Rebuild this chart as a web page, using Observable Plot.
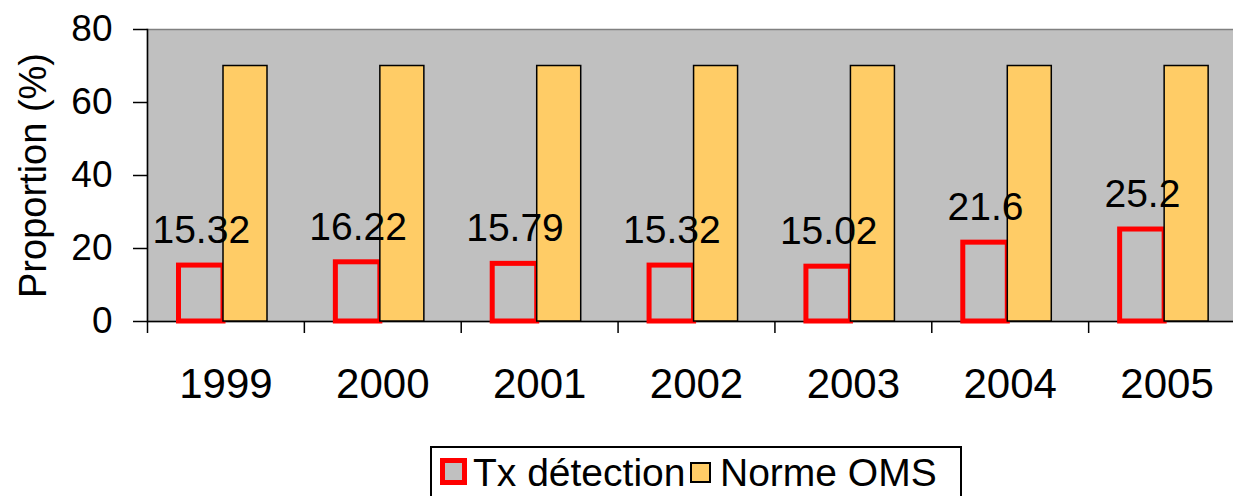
<!DOCTYPE html>
<html><head><meta charset="utf-8">
<script src="https://cdn.jsdelivr.net/npm/d3@7"></script>
<script src="https://cdn.jsdelivr.net/npm/@observablehq/plot@0.6"></script>
<style>
html,body{margin:0;padding:0;background:#fff;overflow:hidden;width:1233px;height:496px}
#wrap{position:relative;width:1233px;height:496px;overflow:hidden;font-family:"Liberation Sans",Arial,sans-serif}
#legend{position:absolute;left:430px;top:446px;width:528px;height:60px;border:2px solid #000;background:#fff}
#legend .sw{position:absolute;box-sizing:border-box}
#legend .lt{position:absolute;top:5px;font-size:39px;line-height:1;color:#000;white-space:nowrap}
</style></head><body><div id="wrap"><div id="chart"></div><div id="legend"></div></div>
<script>
const years = ["1999","2000","2001","2002","2003","2004","2005"];
const detection = [15.32,16.22,15.79,15.32,15.02,21.6,25.2];
const normeOMS = [70,70,70,70,70,70,70];
const yTicks = [0,20,40,60,80];
const seriesNames = ["Tx détection","Norme OMS"];
const yTitle = "Proportion (%)";

const W = 1245, H = 440, ML = 147, MT = 29, MB = 119;
const step = (W - ML) / years.length;
const rows = years.map((y, i) => ({year: y, det: detection[i], oms: normeOMS[i]}));

const chart = Plot.plot({
  width: W, height: H,
  marginLeft: ML, marginRight: 0, marginTop: MT, marginBottom: MB,
  style: {fontFamily: "'Liberation Sans', Arial, sans-serif", background: "transparent", color: "#000", maxWidth: "none", overflow: "visible"},
  x: {type: "band", domain: years, padding: 0, round: false},
  y: {domain: [0, 80]},
  marks: [
    Plot.frame({fill: "#C0C0C0", stroke: "#808080", strokeWidth: 1.5}),
    Plot.ruleY([0], {stroke: "#000", strokeWidth: 1.5}),
    Plot.barY(rows, {x: "year", y: "det", fill: "none", stroke: "#FF0000", strokeWidth: 5, insetLeft: 31.5, insetRight: step - 76}),
    Plot.barY(rows, {x: "year", y: "oms", fill: "#FFCC66", stroke: "#000", strokeWidth: 1.5, insetLeft: 76, insetRight: step - 120}),
    Plot.frame({anchor: "left", stroke: "#000", strokeWidth: 1.5}),
    Plot.axisY({ticks: yTicks, tickSize: 14, tickPadding: 21, fontSize: 37, label: null, strokeWidth: 1.5, stroke: "#000", fill: "#000"}),
    Plot.axisX({tickSize: 12, tickFormat: () => "", dx: -step / 2, label: null, strokeWidth: 1.5, stroke: "#000"}),
    Plot.axisX({tickSize: 0, tickPadding: 47, fontSize: 42, label: null, fill: "#000"}),
    Plot.text([yTitle], {frameAnchor: "left", textAnchor: "middle", rotate: -90, dx: -114, fontSize: 38, fill: "#000"}),
    Plot.text(rows, {x: "year", y: "det", text: d => String(d.det), dx: -24.65, dy: -35, fontSize: 39, fill: "#000"})
  ]
});
document.getElementById("chart").appendChild(chart);

const legend = document.getElementById("legend");
const legendItems = [
  {name: seriesNames[0], sw: {left: 8, top: 10, size: 27, border: "5px solid #FF0000", bg: "#C0C0C0"}, textLeft: 41},
  {name: seriesNames[1], sw: {left: 258, top: 14, size: 21, border: "2px solid #000", bg: "#FFCC66"}, textLeft: 288}
];
for (const it of legendItems) {
  const s = document.createElement("span");
  s.className = "sw";
  Object.assign(s.style, {left: it.sw.left + "px", top: it.sw.top + "px", width: it.sw.size + "px", height: it.sw.size + "px", border: it.sw.border, background: it.sw.bg});
  legend.appendChild(s);
  const t = document.createElement("span");
  t.className = "lt";
  t.style.left = it.textLeft + "px";
  t.textContent = it.name;
  legend.appendChild(t);
}
</script></body></html>
